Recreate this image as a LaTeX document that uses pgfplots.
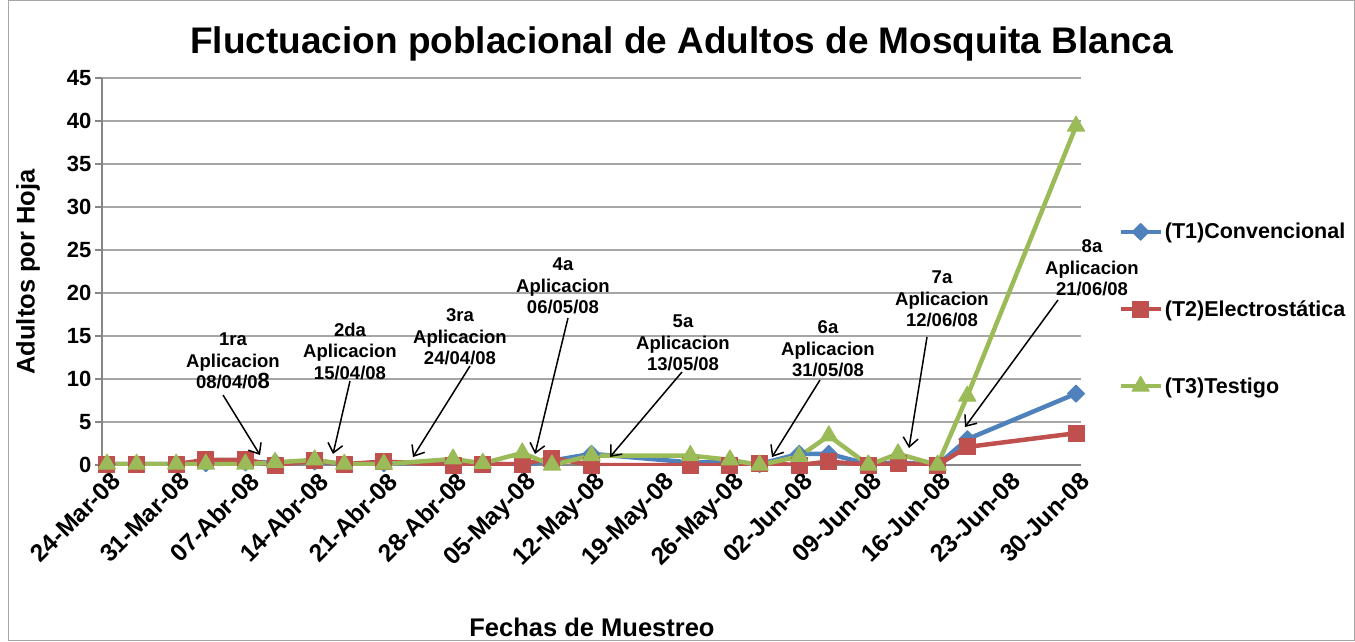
\documentclass[border=0pt]{standalone}
\usepackage{fontspec}
\setmainfont{Liberation Sans}
\usepackage{pgfplots}
\pgfplotsset{compat=1.18}
\usetikzlibrary{arrows.meta}
\definecolor{cT1}{HTML}{4F81BD}
\definecolor{cT2}{HTML}{C0504D}
\definecolor{cT3}{HTML}{9BBB59}
\definecolor{gridgray}{HTML}{A6A6A6}
\definecolor{axisgray}{HTML}{868686}

% day = days after 24-Mar-08
\pgfplotstableread{
day T1 T2 T3
0  0.1 0.1 0.1
3  0.1 0.1 0.1
7  0.1 0.1 0.1
10 0.2 0.6 0.1
14 0.3 0.6 0.1
17 0.3 0.0 0.3
21 0.4 0.5 0.6
24 0.1 0.1 0.1
28 0.2 0.4 0.1
35 0.3 0.0 0.7
38 0.2 0.1 0.2
42 0.0 0.1 1.4
45 0.5 0.8 0.0
49 1.3 0.0 1.1
59 0.3 0.0 1.1
63 0.3 0.0 0.6
66 0.1 0.2 0.0
70 1.3 0.0 1.0
73 1.3 0.4 3.4
77 0.1 0.0 0.0
80 0.3 0.2 1.3
84 0.0 0.0 0.0
87 3.0 2.1 8.0
98 8.3 3.7 39.4
}\datatable

\begin{document}
\begin{tikzpicture}
\path[use as bounding box] (0pt,0pt) rectangle (1355pt,641pt);
\draw[gridgray, line width=1pt] (8pt,0.5pt) rectangle (1354.5pt,640.5pt);
\begin{axis}[
  at={(102pt,176pt)}, anchor=south west,
  width=979pt, height=387pt, scale only axis,
  xmin=-0.5, xmax=98.5, ymin=0, ymax=45,
  axis x line*=bottom, axis y line*=left,
  axis line style={-, draw=axisgray, line width=1.6pt},
  ymajorgrids, major grid style={gridgray, line width=1.2pt},
  ytick={0,5,...,45},
  xtick={0,7,...,98},
  xticklabels={24-Mar-08,31-Mar-08,07-Abr-08,14-Abr-08,21-Abr-08,28-Abr-08,05-May-08,12-May-08,19-May-08,26-May-08,02-Jun-08,09-Jun-08,16-Jun-08,23-Jun-08,30-Jun-08},
  x tick label style={rotate=45, anchor=north east, font=\bfseries\fontsize{24.5}{25}\selectfont, inner sep=1pt, xshift=4pt},
  y tick label style={font=\bfseries\fontsize{22}{22}\selectfont},
  /pgf/number format/assume math mode=true,
  major x tick style={draw=none},
  y tick style={draw=axisgray, line width=1.5pt},
  major tick length=7pt, tick align=outside,
  title={Fluctuacion poblacional de Adultos de Mosquita Blanca},
  title style={at={(rel axis cs:0.592,1.049)}, anchor=base, font=\bfseries\fontsize{37}{40}\selectfont, inner sep=0pt},
  xlabel={Fechas de Muestreo},
  xlabel style={at={(rel axis cs:0.5005,-0.442)}, anchor=base, font=\bfseries\fontsize{25.5}{28}\selectfont, inner sep=0pt},
  ylabel={Adultos por Hoja},
  ylabel style={at={(rel axis cs:-0.0756,0.499)}, anchor=center, font=\bfseries\fontsize{25.5}{28}\selectfont, inner sep=0pt},
  legend style={at={(rel axis cs:1.038,0.403)}, anchor=west, draw=none, fill=none,
    font=\bfseries\fontsize{21.5}{24}\selectfont, row sep=56pt, inner sep=0pt,
    nodes={inner sep=2pt}},
  legend cell align=left,
  legend image code/.code={\draw[mark repeat=2,mark phase=2] plot coordinates {(0pt,0pt) (20pt,0pt) (40pt,0pt)};},
  line join=round,
]
\addplot[cT1, line width=4.5pt, mark=square*, mark size=6pt, mark options={rotate=45, solid, line width=1pt}] table[x=day,y=T1] {\datatable};
\addplot[cT2, line width=4.5pt, mark=square*, mark size=8pt, mark options={solid, line width=1pt}] table[x=day,y=T2] {\datatable};
\addplot[cT3, line width=4.5pt, mark=triangle*, mark size=10pt, mark options={solid, line width=1pt}] table[x=day,y=T3] {\datatable};
\legend{(T1)Convencional,(T2)Electrostática,(T3)Testigo}
\end{axis}
\tikzset{ann/.style={font=\bfseries\fontsize{18.5}{21.5}\selectfont, align=center, inner sep=0pt},
         arr/.style={line width=1.5pt, -{Straight Barb[length=9pt,width=15pt]}}}
\node[ann] at (233pt,280pt) {1ra\\Aplicacion\\08/04/0{\fontsize{22}{22}\selectfont 8}};
\draw[arr] (223pt,246pt) -- (260pt,186pt);
\node[ann] at (350pt,290pt) {2da\\Aplicacion\\15/04/08};
\draw[arr] (350pt,260pt) -- (333pt,187pt);
\node[ann] at (460pt,304pt) {3ra\\Aplicacion\\24/04/08};
\draw[arr] (470pt,275pt) -- (413pt,184pt);
\node[ann] at (563pt,355pt) {4a\\Aplicacion\\06/05/08};
\draw[arr] (568pt,323pt) -- (535pt,187pt);
\node[ann] at (683pt,298pt) {5a\\Aplicacion\\13/05/08};
\draw[arr] (682pt,269pt) -- (610pt,184pt);
\node[ann] at (828pt,292pt) {6a\\Aplicacion\\31/05/08};
\draw[arr] (820pt,261pt) -- (772pt,184pt);
\node[ann] at (942pt,342pt) {7a\\Aplicacion\\12/06/08};
\draw[arr] (927pt,304pt) -- (909pt,193pt);
\node[ann] at (1092pt,373pt) {8a\\Aplicacion\\21/06/08};
\draw[arr] (1058pt,341pt) -- (965pt,214pt);
\end{tikzpicture}
\end{document}
